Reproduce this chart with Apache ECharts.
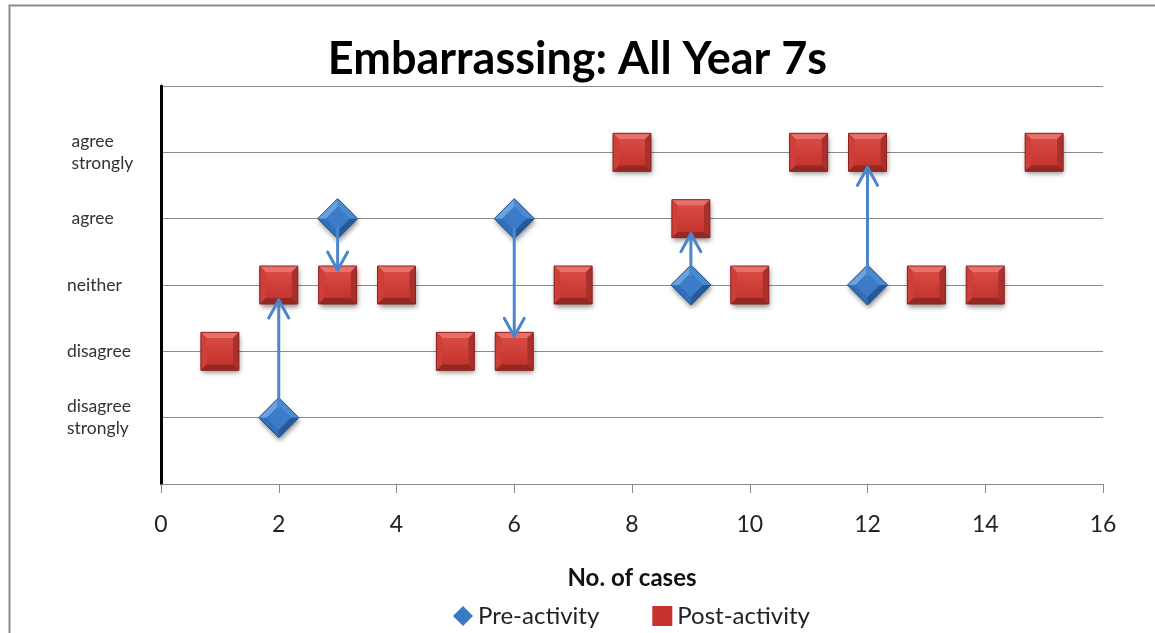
<!DOCTYPE html>
<html>
<head>
<meta charset="utf-8">
<script src="https://cdn.jsdelivr.net/npm/echarts@6/dist/echarts.min.js"></script>
<style>
html,body{margin:0;padding:0;background:#fff;}
#c{width:1155px;height:633px;}
</style>
</head>
<body>
<div id="c"></div>
<script>
// ---- data ----
const levelLabels = ['', 'disagree\nstrongly', 'disagree', 'neither', ' agree', ' agree\n strongly', ''];
const xTicks = [0, 2, 4, 6, 8, 10, 12, 14, 16];
const preCases  = [2, 3, 6, 9, 12];
const preValues = [1, 4, 4, 3, 3];
const postCases  = [1, 2, 3, 4, 5, 6, 7, 8, 9, 10, 11, 12, 13, 14, 15];
const postValues = [2, 3, 3, 3, 2, 2, 3, 5, 4, 3, 5, 5, 3, 3, 5];

const preData = preCases.map((c, i) => [c, preValues[i]]);
const postData = postCases.map((c, i) => [c, postValues[i]]);
const arrowData = preCases.map((c, i) => {
  const j = postCases.indexOf(c);
  return [c, preValues[i], postValues[j]];
});

function shadowStyle(fill){
  return {fill: fill, shadowBlur: 5, shadowOffsetX: 1, shadowOffsetY: 3, shadowColor: 'rgba(0,0,0,0.45)'};
}

function renderSquare(params, api){
  const p = api.coord([api.value(0), api.value(1)]);
  const x = p[0], y = p[1], h = 19, i = 13;
  return {type: 'group', children: [
    {type: 'rect', shape: {x: x - h, y: y - h, width: 2 * h, height: 2 * h}, style: shadowStyle('#c8332e')},
    {type: 'polygon', shape: {points: [[x - h, y - h], [x + h, y - h], [x + i, y - i], [x - i, y - i]]}, style: {fill: '#e8706a'}},
    {type: 'polygon', shape: {points: [[x - h, y - h], [x - i, y - i], [x - i, y + i], [x - h, y + h]]}, style: {fill: '#cf3f3a'}},
    {type: 'polygon', shape: {points: [[x + h, y - h], [x + h, y + h], [x + i, y + i], [x + i, y - i]]}, style: {fill: '#a9302b'}},
    {type: 'polygon', shape: {points: [[x - h, y + h], [x - i, y + i], [x + i, y + i], [x + h, y + h]]}, style: {fill: '#962824'}},
    {type: 'rect', shape: {x: x - i, y: y - i, width: 2 * i, height: 2 * i}, style: {fill: {type: 'linear', x: 0, y: 0, x2: 0, y2: 1, colorStops: [{offset: 0, color: '#d84a44'}, {offset: 1, color: '#c5342f'}]}}},
    {type: 'rect', shape: {x: x - h, y: y - h, width: 2 * h, height: 2 * h}, style: {fill: null, stroke: '#8a2420', lineWidth: 1}}
  ]};
}

function renderDiamond(params, api){
  const p = api.coord([api.value(0), api.value(1)]);
  const x = p[0], y = p[1], h = 20, i = 12;
  return {type: 'group', children: [
    {type: 'polygon', shape: {points: [[x, y - h], [x + h, y], [x, y + h], [x - h, y]]}, style: shadowStyle('#3a78c4')},
    {type: 'polygon', shape: {points: [[x, y - h], [x, y - i], [x - i, y], [x - h, y]]}, style: {fill: '#6aa2e0'}},
    {type: 'polygon', shape: {points: [[x, y - h], [x + h, y], [x + i, y], [x, y - i]]}, style: {fill: '#4a8ad2'}},
    {type: 'polygon', shape: {points: [[x - h, y], [x - i, y], [x, y + i], [x, y + h]]}, style: {fill: '#3170b8'}},
    {type: 'polygon', shape: {points: [[x + h, y], [x, y + h], [x, y + i], [x + i, y]]}, style: {fill: '#245a9c'}},
    {type: 'polygon', shape: {points: [[x, y - i], [x + i, y], [x, y + i], [x - i, y]]}, style: {fill: '#3b7bc8'}},
    {type: 'polygon', shape: {points: [[x, y - h], [x + h, y], [x, y + h], [x - h, y]]}, style: {fill: null, stroke: '#245088', lineWidth: 1}}
  ]};
}

function renderArrow(params, api){
  const p0 = api.coord([api.value(0), api.value(1)]);
  const p1 = api.coord([api.value(0), api.value(2)]);
  const d = p1[1] > p0[1] ? 1 : -1;
  const x = p0[0];
  const startY = p0[1] + d * 10;
  const tipY = p1[1] - d * 15;
  const st = {stroke: '#4a86cc', lineWidth: 3, fill: null, lineCap: 'round', lineJoin: 'round'};
  return {type: 'group', children: [
    {type: 'line', shape: {x1: x, y1: startY, x2: x, y2: tipY}, style: st},
    {type: 'polyline', shape: {points: [[x - 10, tipY - d * 18], [x, tipY], [x + 10, tipY - d * 18]]}, style: st}
  ]};
}

const chart = echarts.init(document.getElementById('c'));
chart.setOption({
  backgroundColor: '#fff',
  animation: false,
  textStyle: {fontFamily: 'Lato'},
  title: {
    text: 'Embarrassing: All Year 7s',
    left: 'center',
    top: 32,
    textStyle: {fontFamily: 'Lato', fontSize: 45, fontWeight: 'bold', color: '#000'}
  },
  graphic: [{
    type: 'rect', left: 7, top: 3, shape: {width: 1160, height: 650},
    style: {fill: null, stroke: '#8c8c8c', lineWidth: 2}, silent: true, z: -1
  }],
  legend: {
    bottom: 0,
    left: 448,
    itemWidth: 20,
    itemHeight: 20,
    itemGap: 53,
    textStyle: {fontFamily: 'Lato', fontSize: 24, color: '#222'},
    data: [{name: 'Pre-activity', icon: 'diamond'}, {name: 'Post-activity', icon: 'rect'}]
  },
  grid: {left: 161, right: 52, top: 86, bottom: 149},
  xAxis: {
    type: 'value', min: 0, max: 16, interval: 2,
    name: 'No. of cases', nameLocation: 'middle', nameGap: 82,
    nameTextStyle: {fontFamily: 'Lato', fontSize: 24, fontWeight: 'bold', color: '#111'},
    axisLine: {lineStyle: {color: '#888', width: 1}},
    axisTick: {show: true, length: 9, lineStyle: {color: '#888'}},
    axisLabel: {fontSize: 23, color: '#222', margin: 29,
      formatter: v => xTicks.indexOf(v) >= 0 ? String(v) : ''},
    splitLine: {show: false}
  },
  yAxis: {
    type: 'value', min: 0, max: 6, interval: 1,
    axisLine: {show: true, lineStyle: {color: '#000', width: 3}},
    axisTick: {show: false},
    axisLabel: {fontSize: 17.5, color: '#333', margin: 94, align: 'left', lineHeight: 22,
      formatter: v => levelLabels[v] || ''},
    splitLine: {show: true, lineStyle: {color: '#8a8a8a', width: 1}}
  },
  series: [
    {name: 'Pre-activity', type: 'custom', renderItem: renderDiamond, data: preData,
      itemStyle: {color: '#3a78c4'}, encode: {x: 0, y: 1}, z: 3},
    {name: 'Post-activity', type: 'custom', renderItem: renderSquare, data: postData,
      itemStyle: {color: '#c8332e'}, encode: {x: 0, y: 1}, z: 4},
    {name: 'arrows', type: 'custom', renderItem: renderArrow, data: arrowData,
      encode: {x: 0, y: [1, 2]}, z: 5, silent: true}
  ]
});
</script>
</body>
</html>
